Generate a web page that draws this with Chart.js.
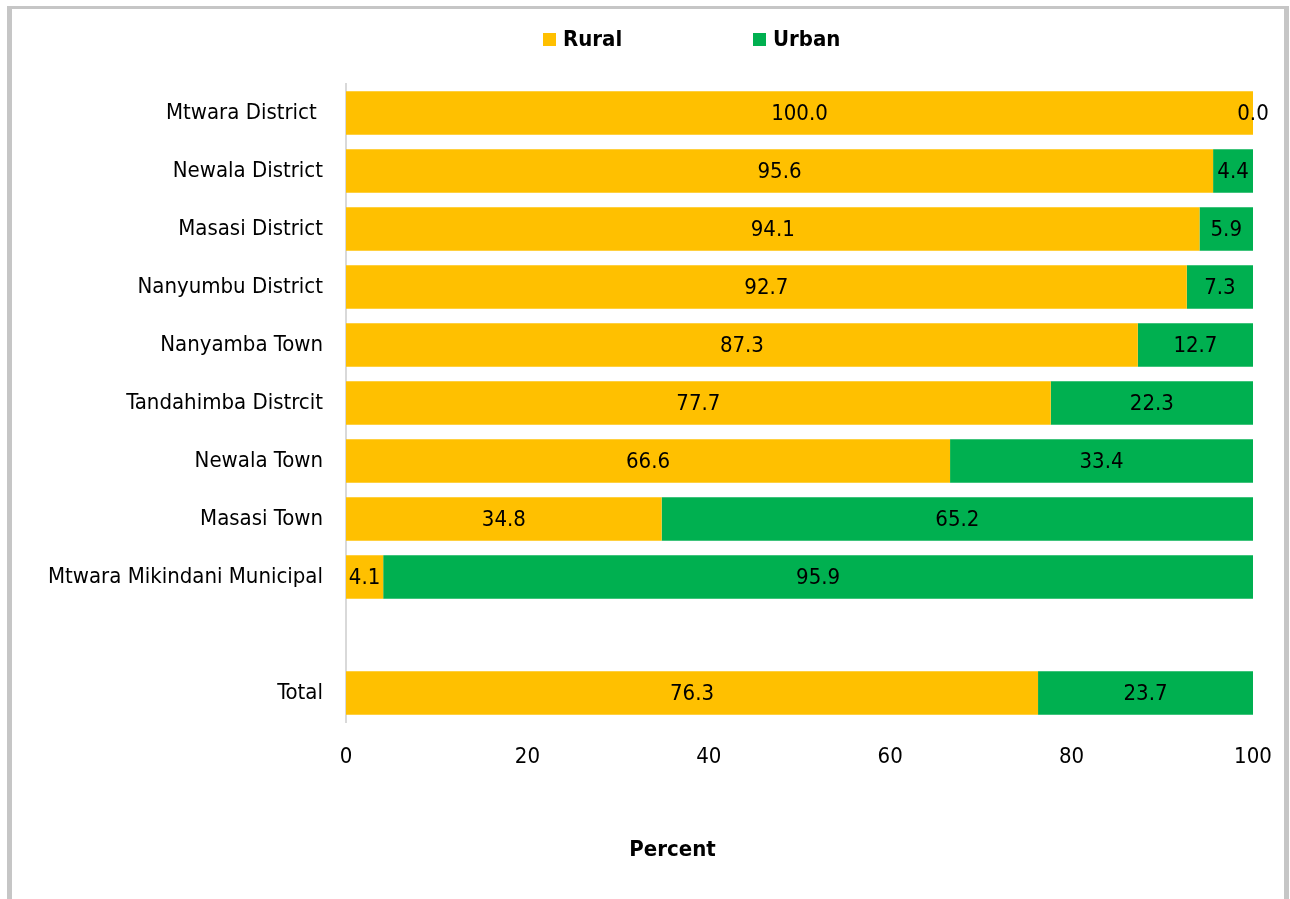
<!DOCTYPE html>
<html>
<head>
<meta charset="utf-8">
<script src="https://cdn.jsdelivr.net/npm/chart.js@4/dist/chart.umd.min.js"></script>
<style>
  html, body { margin: 0; padding: 0; background: #fff; }
  #wrap { position: relative; width: 1290px; height: 899px; }
  #frame {
    position: absolute; left: 7px; top: 6px; width: 1282px; height: 893px;
    border-left: 5px solid #c6c6c6; border-right: 5px solid #c6c6c6; border-top: 3px solid #c6c6c6;
    box-sizing: border-box; pointer-events: none;
  }
  canvas { position: absolute; left: 0; top: 0; }
</style>
</head>
<body>
<div id="wrap">
  <canvas id="grafico" width="1290" height="899"></canvas>
  <div id="frame"></div>
</div>
<script>
const categorias = [
  'Mtwara District ',
  'Newala District',
  'Masasi District',
  'Nanyumbu District',
  'Nanyamba Town',
  'Tandahimba Distrcit',
  'Newala Town',
  'Masasi Town',
  'Mtwara Mikindani Municipal',
  '',
  'Total'
];
const rural = [100.0, 95.6, 94.1, 92.7, 87.3, 77.7, 66.6, 34.8, 4.1, null, 76.3];
const urbana = [0.0, 4.4, 5.9, 7.3, 12.7, 22.3, 33.4, 65.2, 95.9, null, 23.7];
const ticksX = [0, 20, 40, 60, 80, 100];

const FONTE = "'Liberation Sans Narrow', 'Arial Narrow', 'DejaVu Sans Condensed', sans-serif";
const COR_RURAL = '#ffc000';
const COR_URBANA = '#00b050';

// rotulos de valor no meio de cada segmento
const pluginRotulos = {
  id: 'rotulos',
  afterDatasetsDraw(chart) {
    const { ctx } = chart;
    ctx.save();
    ctx.font = `22px ${FONTE}`;
    ctx.fillStyle = '#000';
    ctx.textAlign = 'center';
    ctx.textBaseline = 'middle';
    chart.data.datasets.forEach((ds, i) => {
      const meta = chart.getDatasetMeta(i);
      meta.data.forEach((bar, j) => {
        const v = ds.data[j];
        if (v == null) return;
        const { x, base, y } = bar.getProps(['x', 'base', 'y'], true);
        ctx.fillText(v.toFixed(1), (x + base) / 2, y + 1);
      });
    });
    ctx.restore();
  }
};

// legenda e titulo do eixo desenhados a mao (posicao fora do centro)
const pluginLegenda = {
  id: 'legendaManual',
  afterDraw(chart) {
    const { ctx, chartArea } = chart;
    ctx.save();
    ctx.font = `bold 22px ${FONTE}`;
    ctx.textBaseline = 'middle';
    ctx.textAlign = 'left';
    const itens = [
      { x: 543, cor: COR_RURAL, texto: chart.data.datasets[0].label },
      { x: 753, cor: COR_URBANA, texto: chart.data.datasets[1].label }
    ];
    itens.forEach(it => {
      ctx.fillStyle = it.cor;
      ctx.fillRect(it.x, 33, 13, 13);
      ctx.fillStyle = '#000';
      ctx.fillText(it.texto, it.x + 20, 40);
    });
    ctx.textAlign = 'center';
    const xTitulo = chartArea.left + (chartArea.right - chartArea.left) * 0.36;
    ctx.fillText('Percent', xTitulo, 850);
    ctx.restore();
  }
};

new Chart(document.getElementById('grafico'), {
  type: 'bar',
  data: {
    labels: categorias,
    datasets: [
      { label: 'Rural', data: rural, backgroundColor: COR_RURAL, barPercentage: 0.75, categoryPercentage: 1 },
      { label: 'Urban', data: urbana, backgroundColor: COR_URBANA, barPercentage: 0.75, categoryPercentage: 1 }
    ]
  },
  plugins: [pluginRotulos, pluginLegenda],
  options: {
    indexAxis: 'y',
    responsive: false,
    animation: false,
    layout: { padding: { top: 84, right: 37, left: 0, bottom: 0 } },
    plugins: {
      legend: { display: false },
      tooltip: { enabled: false }
    },
    scales: {
      x: {
        stacked: true,
        min: 0,
        max: 100,
        afterBuildTicks(s) { s.ticks = ticksX.map(v => ({ value: v })); },
        afterFit(s) { s.height = 177; s.paddingLeft = 0; s.paddingRight = 0; },
        grid: { display: false, drawTicks: false },
        border: { display: false },
        ticks: { color: '#000', padding: 22, maxRotation: 0, font: { family: FONTE, size: 22 } }
      },
      y: {
        stacked: true,
        afterFit(s) { s.width = 346; },
        grid: { display: false, drawTicks: false },
        border: { display: true, color: '#d9d9d9', width: 2 },
        ticks: { color: '#000', padding: 23, font: { family: FONTE, size: 22 } }
      }
    }
  }
});
</script>
</body>
</html>
